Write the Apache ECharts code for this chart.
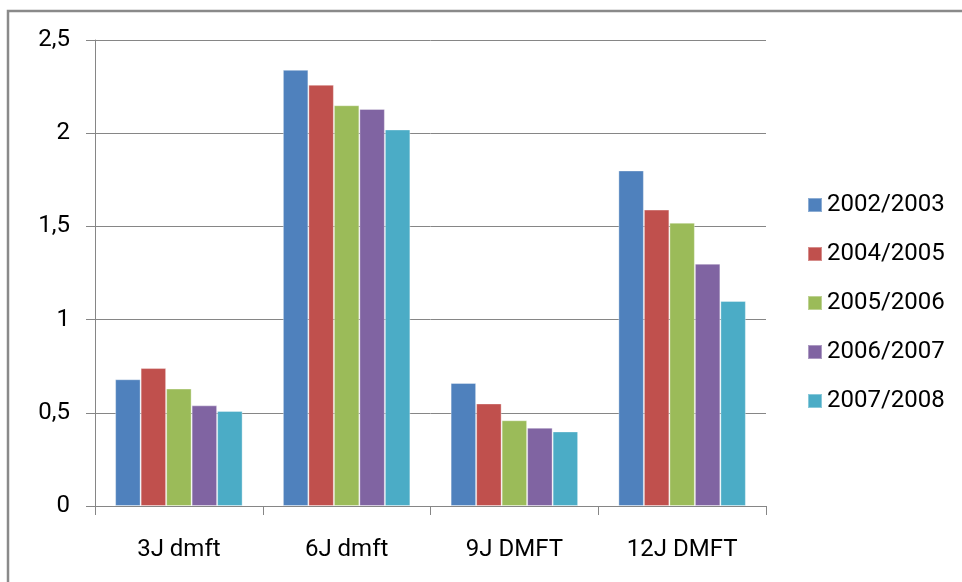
<!DOCTYPE html>
<html>
<head>
<meta charset="utf-8">
<script src="https://cdn.jsdelivr.net/npm/echarts@6/dist/echarts.min.js"></script>
<style>
html,body{margin:0;padding:0;background:#fff;}
#c{width:962px;height:582px;}
</style>
</head>
<body>
<div id="c"></div>
<script>
const categories = ['3J dmft', '6J dmft', '9J DMFT', '12J DMFT'];
const seriesNames = ['2002/2003', '2004/2005', '2005/2006', '2006/2007', '2007/2008'];
const s2002 = [0.68, 2.34, 0.66, 1.80];
const s2004 = [0.74, 2.26, 0.55, 1.59];
const s2005 = [0.63, 2.15, 0.46, 1.52];
const s2006 = [0.54, 2.13, 0.42, 1.30];
const s2007 = [0.51, 2.02, 0.40, 1.10];
const colors = ['#4F81BD', '#C0504D', '#9BBB59', '#8064A2', '#4BACC6'];
const values = [s2002, s2004, s2005, s2006, s2007];

const font = 'Roboto, "Noto Sans", sans-serif';
const chart = echarts.init(document.getElementById('c'));
chart.setOption({
  animation: false,
  backgroundColor: '#ffffff',
  color: colors,
  graphic: [{
    type: 'rect',
    shape: { x: 8, y: 11, width: 1200, height: 1200 },
    style: { fill: 'none', stroke: '#8a8a8a', lineWidth: 2.5 },
    silent: true
  }],
  grid: { left: 95, right: 196, top: 40, bottom: 76 },
  legend: {
    orient: 'vertical',
    left: 802,
    top: 188,
    padding: 5,
    itemWidth: 14,
    itemHeight: 14,
    itemGap: 25,
    icon: 'rect',
    data: seriesNames,
    textStyle: { fontFamily: font, fontSize: 24, color: '#000' }
  },
  xAxis: {
    type: 'category',
    data: categories,
    axisLine: { lineStyle: { color: '#868686', width: 1 } },
    axisTick: { show: true, length: 9, lineStyle: { color: '#868686' } },
    axisLabel: { fontFamily: font, fontSize: 24, color: '#000', margin: 32 }
  },
  yAxis: {
    type: 'value',
    min: 0,
    max: 2.5,
    interval: 0.5,
    axisLine: { show: true, lineStyle: { color: '#868686', width: 1 } },
    axisTick: { show: true, length: 9, lineStyle: { color: '#868686' } },
    splitLine: { lineStyle: { color: '#868686', width: 1 } },
    axisLabel: {
      fontFamily: font, fontSize: 24, color: '#000', margin: 25,
      formatter: v => String(v).replace('.', ',')
    }
  },
  series: seriesNames.map((n, i) => ({
    name: n,
    type: 'bar',
    data: values[i],
    barGap: '0%',
    barCategoryGap: '24%',
    itemStyle: { color: colors[i], borderColor: 'rgba(255,255,255,0.35)', borderWidth: 1 }
  }))
});
</script>
</body>
</html>
